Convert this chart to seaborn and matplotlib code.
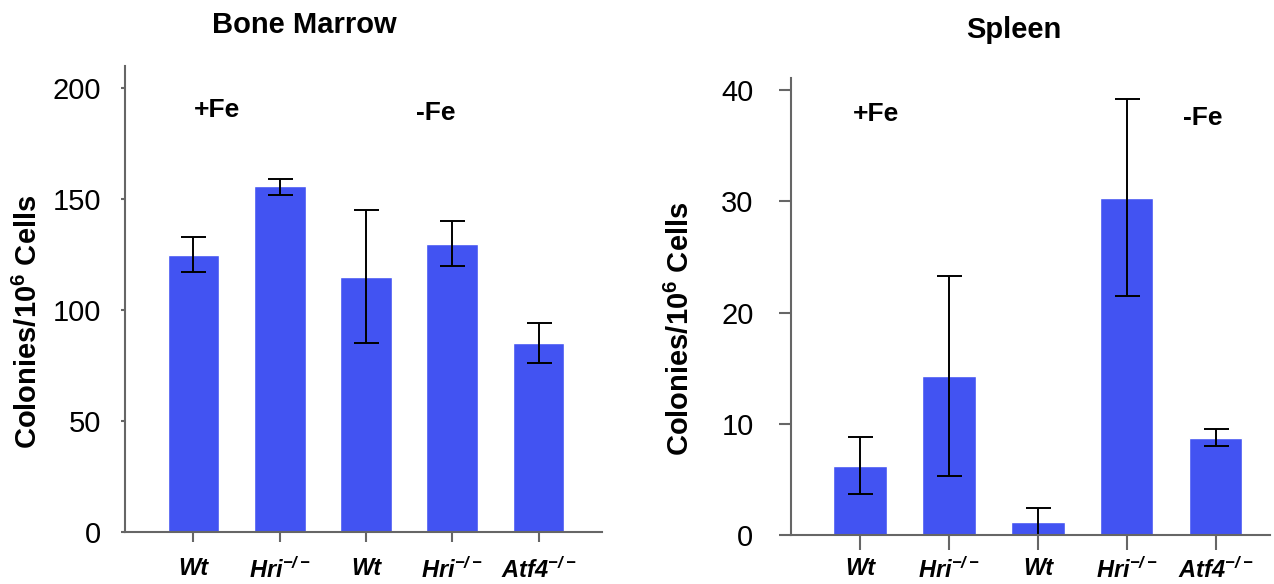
import pandas as pd
import matplotlib.pyplot as plt
import seaborn as sns

# datos
genotypes = ["Wt", r"Hri$^{-/-}$", "Wt", r"Hri$^{-/-}$", r"Atf4$^{-/-}$"]

bm_mean = [125, 156, 115, 130, 85]
bm_low = [117, 152, 85, 120, 76]
bm_high = [133, 159, 145, 140, 94]

sp_mean = [6.2, 14.3, 1.2, 30.3, 8.7]
sp_low = [3.7, 5.3, 0.0, 21.5, 8.0]
sp_high = [8.8, 23.3, 2.4, 39.2, 9.5]

bar_color = "#4253f2"
axis_color = "#666666"

sns.set_style("ticks")
plt.rcParams["font.family"] = ["Liberation Sans", "DejaVu Sans"]
plt.rcParams["mathtext.default"] = "regular"
plt.rcParams["text.color"] = "black"
plt.rcParams["axes.labelcolor"] = "black"


def panel(ax, mean, low, high, ymax, yticks, fe_pos, ytick_len, ytick_pad,
          xtick_len, xtick_pad, label_x):
    df = pd.DataFrame({"idx": range(len(mean)), "value": mean})
    sns.barplot(data=df, x="idx", y="value", color=bar_color, saturation=1,
                width=0.6, errorbar=None, ax=ax)
    yerr = [[m - l for m, l in zip(mean, low)], [h - m for m, h in zip(mean, high)]]
    ax.errorbar(df["idx"], df["value"], yerr=yerr, fmt="none", ecolor="black",
                elinewidth=1.4, capsize=9, capthick=1.4)
    ax.set_ylim(0, ymax)
    ax.set_yticks(yticks)
    ax.tick_params(axis="y", labelsize=21, length=ytick_len, width=1.5,
                   color=axis_color, labelcolor="black", pad=ytick_pad)
    ax.tick_params(axis="x", labelsize=17, length=xtick_len, width=1.5,
                   color=axis_color, labelcolor="black", pad=xtick_pad)
    ax.set_xticks(range(len(genotypes)))
    ax.set_xticklabels(genotypes, fontweight="bold", fontstyle="italic")
    ax.set_xlabel("")
    ax.set_ylabel(r"Colonies/10$^6$ Cells", fontsize=21, fontweight="bold")
    ax.yaxis.set_label_coords(label_x, 0.452)
    for s in ["left", "bottom"]:
        ax.spines[s].set_color(axis_color)
        ax.spines[s].set_linewidth(1.5)
    sns.despine(ax=ax)
    for (x, y, t) in fe_pos:
        ax.text(x, y, t, ha="center", va="center", fontsize=19, fontweight="bold")


fig = plt.figure(figsize=(12.74, 5.84), dpi=100)
ax1 = fig.add_axes([125 / 1274, 1 - 532 / 584, 477 / 1274, 466 / 584])
ax2 = fig.add_axes([791 / 1274, 1 - 535 / 584, 479 / 1274, 457 / 584])

panel(ax1, bm_mean, bm_low, bm_high, 210, [0, 50, 100, 150, 200],
      [(0.27, 190, "+Fe"), (2.81, 189, "-Fe")], 3, 14, 7, 11, -0.172)
ax1.set_xlim(-0.794, 4.736)

panel(ax2, sp_mean, sp_low, sp_high, 41.1, [0, 10, 20, 30, 40],
      [(0.18, 37.9, "+Fe"), (3.85, 37.5, "-Fe")], 9, 18, 11, 5, -0.2)
ax2.set_xlim(-0.775, 4.61)

fig.text(304 / 1274, 1 - 33 / 584, "Bone Marrow", ha="center", va="baseline",
         fontsize=21, fontweight="bold")
fig.text(1014 / 1274, 1 - 38 / 584, "Spleen", ha="center", va="baseline",
         fontsize=21, fontweight="bold")

plt.savefig("out.png", dpi=100)
